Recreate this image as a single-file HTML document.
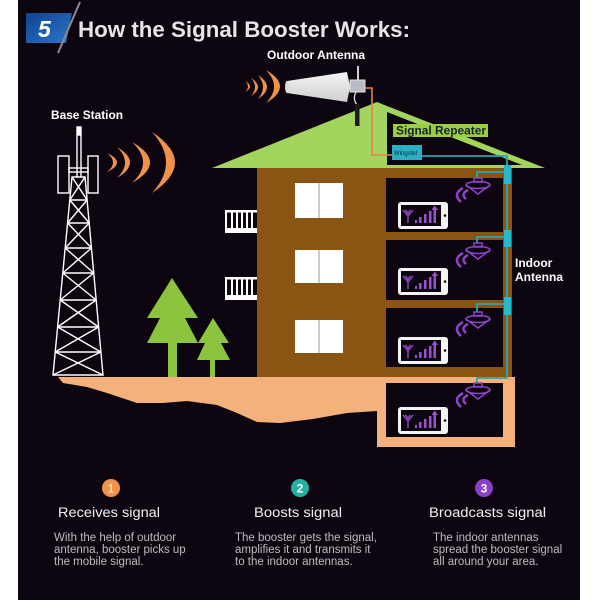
<!DOCTYPE html>
<html><head><meta charset="utf-8"><style>
html,body{margin:0;padding:0;background:#fff;}
svg{display:block;}
text{font-family:"Liberation Sans",Arial,sans-serif;}
</style></head><body>
<svg width="600" height="600" viewBox="0 0 600 600" xmlns="http://www.w3.org/2000/svg">
<defs>
<linearGradient id="bg5" x1="0" y1="0" x2="1" y2="1">
<stop offset="0" stop-color="#0f4390"/><stop offset="1" stop-color="#2d76c8"/></linearGradient>
<linearGradient id="cone" x1="0" y1="0" x2="0" y2="1">
<stop offset="0" stop-color="#f4f4f4"/><stop offset="1" stop-color="#cfcfcf"/></linearGradient>
</defs>
<rect x="0" y="0" width="600" height="600" fill="#ffffff"/>
<rect x="18" y="0" width="562" height="600" fill="#0d0610"/>

<!-- Title -->
<polygon points="26,13 72,13 66,43 26,43" fill="url(#bg5)"/>
<line x1="80" y1="2" x2="58" y2="53" stroke="#8a8a92" stroke-width="2"/>
<text x="38" y="37" font-size="23" font-weight="bold" font-style="italic" fill="#ffffff">5</text>
<text x="78" y="37" font-size="22" font-weight="bold" fill="#e6e6e8" textLength="332" lengthAdjust="spacingAndGlyphs">How the Signal Booster Works:</text>

<!-- Labels -->
<text x="267" y="59" font-size="12" font-weight="bold" fill="#ffffff" textLength="98" lengthAdjust="spacingAndGlyphs">Outdoor Antenna</text>
<text x="51" y="119" font-size="12" font-weight="bold" fill="#ffffff" textLength="72" lengthAdjust="spacingAndGlyphs">Base Station</text>

<!-- Outdoor antenna waves -->
<g fill="#f0924a">
<path d="M245,81 Q255,86.5 245,92 Q251,86.5 245,81Z"/>
<path d="M251,78 Q265,87 251,96 Q259,87 251,78Z"/>
<path d="M258,75 Q276,87 258,99 Q268,87 258,75Z"/>
<path d="M266,70 Q294,86.5 266,103 Q282,86.5 266,70Z"/>
</g>

<!-- Base station waves -->
<g fill="#f0924a">
<path d="M107,153 Q127,162.5 107,172 Q119,162.5 107,153Z"/>
<path d="M117,147 Q143,162.5 117,178 Q133,162.5 117,147Z"/>
<path d="M132,142 Q168,162.5 132,183 Q154,162.5 132,142Z"/>
<path d="M152,132 Q198,162.5 152,193 Q180,162.5 152,132Z"/>
</g>

<!-- Roof -->
<polygon points="377,102 545,168 212,168" fill="#a2d45e"/>
<polygon points="387,112 522,165 387,165" fill="#0d0610"/>

<!-- Outdoor antenna -->
<polygon points="287,81 347,72 350,87 347,102 287,93" fill="url(#cone)"/>
<ellipse cx="287" cy="87" rx="2" ry="6" fill="#dcdcdc"/>
<line x1="358" y1="66" x2="358" y2="82" stroke="#cfcfcf" stroke-width="2"/>
<rect x="350" y="80" width="15" height="12" fill="#b9bcc4" stroke="#e0e0e0" stroke-width="1"/>
<path d="M356,92 Q352,100 358,106" stroke="#e8e8e8" stroke-width="1.2" fill="none"/>
<rect x="355" y="104" width="4.5" height="22" fill="#1c1c1c"/>

<!-- Orange cable -->
<polyline points="365,88 372,88 372,155 392,155" fill="none" stroke="#e8834a" stroke-width="1.6"/>

<!-- Signal Repeater label -->
<rect x="393" y="124" width="95" height="13" fill="#9ccf3e"/>
<text x="396" y="134.5" font-size="12" font-weight="bold" fill="#15233a" textLength="90" lengthAdjust="spacingAndGlyphs">Signal Repeater</text>

<!-- Building -->
<rect x="257" y="168" width="255" height="209" fill="#8a5512"/>
<rect x="386" y="178" width="117" height="54" fill="#0d0610"/>
<rect x="386" y="240" width="117" height="60" fill="#0d0610"/>
<rect x="386" y="308" width="117" height="59" fill="#0d0610"/>

<!-- Windows -->
<g fill="#ffffff">
<rect x="295" y="183" width="48" height="35"/>
<rect x="295" y="250" width="48" height="33"/>
<rect x="295" y="320" width="48" height="33"/>
</g>
<g stroke="#9a9a9a" stroke-width="1">
<line x1="319" y1="183" x2="319" y2="218"/>
<line x1="319" y1="250" x2="319" y2="283"/>
<line x1="319" y1="320" x2="319" y2="353"/>
</g>

<!-- Balconies -->
<g fill="#ffffff">
<rect x="225" y="210" width="32" height="2.5"/>
<rect x="225" y="228" width="32" height="5"/>
<rect x="225" y="210" width="2" height="23"/>
<rect x="231" y="210" width="2" height="20"/>
<rect x="236" y="210" width="2" height="20"/>
<rect x="241" y="210" width="2" height="20"/>
<rect x="246" y="210" width="2" height="20"/>
<rect x="251" y="210" width="2" height="20"/>
<rect x="225" y="277" width="32" height="2.5"/>
<rect x="225" y="295" width="32" height="5"/>
<rect x="225" y="277" width="2" height="23"/>
<rect x="231" y="277" width="2" height="20"/>
<rect x="236" y="277" width="2" height="20"/>
<rect x="241" y="277" width="2" height="20"/>
<rect x="246" y="277" width="2" height="20"/>
<rect x="251" y="277" width="2" height="20"/>
</g>

<!-- Ground -->
<path d="M58,377 L515,377 L515,447 L377,447 L377,411 L347,413 L313,419 L280,423 L257,422 L237,413 L217,405 L187,401 L163,403 L137,403 L107,393 L87,387 L63,383 Z" fill="#f5b17c"/>
<rect x="386" y="383" width="117" height="54" fill="#0d0610"/>

<!-- Trees -->
<g fill="#8cc43e">
<polygon points="172,278 198,318 185,318 198,343 147,343 160,318 147,318"/>
<rect x="168" y="342" width="9" height="35"/>
<polygon points="213,318 229,343 221,343 230,360 197,360 205,343 198,343"/>
<rect x="210" y="359" width="5" height="18"/>
</g>

<!-- Tower -->
<g stroke="#ffffff" stroke-width="1.4" fill="none">
<rect x="77" y="127" width="4" height="8" fill="#ffffff"/>
<line x1="77" y1="135" x2="77" y2="177"/>
<line x1="81" y1="135" x2="81" y2="177"/>
<rect x="58" y="156" width="11" height="37"/>
<rect x="88" y="156" width="10" height="37"/>
<rect x="69" y="168" width="19" height="4"/>
<polygon points="72,177 85,177 103,375 53,375"/>
<line x1="69.8" y1="200" x2="87.1" y2="200"/>
<line x1="67.6" y1="223" x2="89.2" y2="223"/>
<line x1="65.2" y1="248" x2="91.5" y2="248"/>
<line x1="62.8" y1="273" x2="93.7" y2="273"/>
<line x1="60.2" y1="300" x2="96.2" y2="300"/>
<line x1="57.6" y1="327" x2="98.6" y2="327"/>
<line x1="55.2" y1="352" x2="100.9" y2="352"/>
<path d="M72,177 L87.1,200 M85,177 L69.8,200
M69.8,200 L89.2,223 M87.1,200 L67.6,223
M67.6,223 L91.5,248 M89.2,223 L65.2,248
M65.2,248 L93.7,273 M91.5,248 L62.8,273
M62.8,273 L96.2,300 M93.7,273 L60.2,300
M60.2,300 L98.6,327 M96.2,300 L57.6,327
M57.6,327 L100.9,352 M98.6,327 L55.2,352
M55.2,352 L103,375 M100.9,352 L53,375"/>
</g>

<!-- Repeater device -->
<rect x="392" y="145" width="30" height="15" fill="#2ab0c0"/>
<text x="394" y="155" font-size="6" fill="#0f2a40">Wingstel</text>

<!-- Teal cables -->
<g fill="none" stroke="#2aa7b3" stroke-width="1.8">
<polyline points="422,156 507,156 507,378 477,378 477,383"/>
<polyline points="507,172 477,172 477,178"/>
<polyline points="507,237 477,237 477,243"/>
<polyline points="507,304 477,304 477,312"/>
</g>
<g fill="#25b8c8">
<rect x="504" y="165" width="7" height="19"/>
<rect x="504" y="230" width="7" height="17"/>
<rect x="504" y="297" width="7" height="18"/>
</g>

<!-- Indoor antennas -->
<g fill="none" stroke="#8c45c8" stroke-width="1.5">
<g transform="translate(0,178)">
<rect x="474" y="0" width="8" height="4"/>
<ellipse cx="478" cy="7" rx="12" ry="3.5"/>
<path d="M466,7 L478,16 L490,7"/>
<path d="M463,10 Q452,16 461,24 M468,12 Q460,16 466,21" stroke-width="2.5"/>
</g>
<g transform="translate(0,243)">
<rect x="474" y="0" width="8" height="4"/>
<ellipse cx="478" cy="7" rx="12" ry="3.5"/>
<path d="M466,7 L478,16 L490,7"/>
<path d="M463,10 Q452,16 461,24 M468,12 Q460,16 466,21" stroke-width="2.5"/>
</g>
<g transform="translate(0,312)">
<rect x="474" y="0" width="8" height="4"/>
<ellipse cx="478" cy="7" rx="12" ry="3.5"/>
<path d="M466,7 L478,16 L490,7"/>
<path d="M463,10 Q452,16 461,24 M468,12 Q460,16 466,21" stroke-width="2.5"/>
</g>
<g transform="translate(0,383)">
<rect x="474" y="0" width="8" height="4"/>
<ellipse cx="478" cy="7" rx="12" ry="3.5"/>
<path d="M466,7 L478,16 L490,7"/>
<path d="M463,10 Q452,16 461,24 M468,12 Q460,16 466,21" stroke-width="2.5"/>
</g>
</g>

<!-- Phones -->
<g id="ph1" transform="translate(0,202)">
<rect x="398" y="0" width="50" height="27" rx="3" fill="#f4f4f4"/>
<rect x="401" y="3" width="40" height="21" fill="#0d0610"/>
<circle cx="445" cy="13.5" r="1.3" fill="#0d0610"/>
<path d="M403,8 L408,14 L413,8 M408,14 L408,21 M405.5,8 L408,11.5 L410.5,8" stroke="#9a50d0" stroke-width="1.3" fill="none"/>
<g fill="#9a50d0">
<rect x="415" y="18" width="2" height="3"/>
<rect x="419" y="15" width="2.5" height="6"/>
<rect x="424" y="12" width="2.5" height="9"/>
<rect x="429" y="9" width="2.5" height="12"/>
<rect x="433.5" y="7" width="2.5" height="14"/>
<polygon points="431.5,8 434.75,3.5 438,8"/>
</g>
</g>
<g transform="translate(0,268)">
<rect x="398" y="0" width="50" height="27" rx="3" fill="#f4f4f4"/>
<rect x="401" y="3" width="40" height="21" fill="#0d0610"/>
<circle cx="445" cy="13.5" r="1.3" fill="#0d0610"/>
<path d="M403,8 L408,14 L413,8 M408,14 L408,21 M405.5,8 L408,11.5 L410.5,8" stroke="#9a50d0" stroke-width="1.3" fill="none"/>
<g fill="#9a50d0">
<rect x="415" y="18" width="2" height="3"/>
<rect x="419" y="15" width="2.5" height="6"/>
<rect x="424" y="12" width="2.5" height="9"/>
<rect x="429" y="9" width="2.5" height="12"/>
<rect x="433.5" y="7" width="2.5" height="14"/>
<polygon points="431.5,8 434.75,3.5 438,8"/>
</g>
</g>
<g transform="translate(0,337)">
<rect x="398" y="0" width="50" height="27" rx="3" fill="#f4f4f4"/>
<rect x="401" y="3" width="40" height="21" fill="#0d0610"/>
<circle cx="445" cy="13.5" r="1.3" fill="#0d0610"/>
<path d="M403,8 L408,14 L413,8 M408,14 L408,21 M405.5,8 L408,11.5 L410.5,8" stroke="#9a50d0" stroke-width="1.3" fill="none"/>
<g fill="#9a50d0">
<rect x="415" y="18" width="2" height="3"/>
<rect x="419" y="15" width="2.5" height="6"/>
<rect x="424" y="12" width="2.5" height="9"/>
<rect x="429" y="9" width="2.5" height="12"/>
<rect x="433.5" y="7" width="2.5" height="14"/>
<polygon points="431.5,8 434.75,3.5 438,8"/>
</g>
</g>
<g transform="translate(0,407)">
<rect x="398" y="0" width="50" height="27" rx="3" fill="#f4f4f4"/>
<rect x="401" y="3" width="40" height="21" fill="#0d0610"/>
<circle cx="445" cy="13.5" r="1.3" fill="#0d0610"/>
<path d="M403,8 L408,14 L413,8 M408,14 L408,21 M405.5,8 L408,11.5 L410.5,8" stroke="#9a50d0" stroke-width="1.3" fill="none"/>
<g fill="#9a50d0">
<rect x="415" y="18" width="2" height="3"/>
<rect x="419" y="15" width="2.5" height="6"/>
<rect x="424" y="12" width="2.5" height="9"/>
<rect x="429" y="9" width="2.5" height="12"/>
<rect x="433.5" y="7" width="2.5" height="14"/>
<polygon points="431.5,8 434.75,3.5 438,8"/>
</g>
</g>

<!-- Indoor Antenna label -->
<text x="515" y="267" font-size="12" font-weight="bold" fill="#ffffff">Indoor</text>
<text x="515" y="281" font-size="12" font-weight="bold" fill="#ffffff">Antenna</text>

<!-- Bottom steps -->
<circle cx="111" cy="488" r="9" fill="#f0924a"/>
<text x="111" y="492.5" font-size="12" fill="#ffffff" text-anchor="middle">1</text>
<circle cx="300" cy="488" r="9" fill="#23b0a4"/>
<text x="300" y="492.5" font-size="12" font-weight="bold" fill="#ffffff" text-anchor="middle">2</text>
<circle cx="484" cy="488" r="9" fill="#8b3fc9"/>
<text x="484" y="492.5" font-size="12" font-weight="bold" fill="#ffffff" text-anchor="middle">3</text>

<g font-size="13.5" fill="#f0f0f0">
<text x="58" y="517" textLength="102" lengthAdjust="spacingAndGlyphs">Receives signal</text>
<text x="254" y="517" textLength="88" lengthAdjust="spacingAndGlyphs">Boosts signal</text>
<text x="429" y="517" textLength="117" lengthAdjust="spacingAndGlyphs">Broadcasts signal</text>
</g>
<g font-size="11.5" fill="#bdbdbd">
<text x="54" y="541">With the help of outdoor</text>
<text x="54" y="553">antenna, booster picks up</text>
<text x="54" y="565">the mobile signal.</text>
<text x="235" y="541">The booster gets the signal,</text>
<text x="235" y="553">amplifies it and transmits it</text>
<text x="235" y="565">to the indoor antennas.</text>
<text x="433" y="541">The indoor antennas</text>
<text x="433" y="553">spread the booster signal</text>
<text x="433" y="565">all around your area.</text>
</g>
</svg>
</body></html>
